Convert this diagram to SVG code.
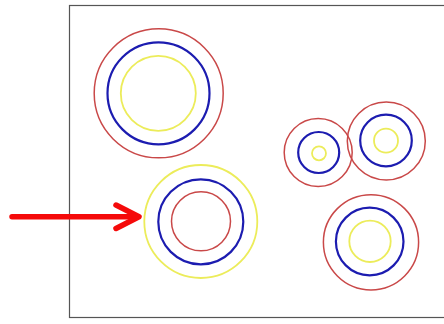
<svg xmlns="http://www.w3.org/2000/svg" width="444" height="324" viewBox="0 0 444 324">
<style>
.r{fill:none;stroke:#c94848;stroke-width:1.5}
.b{fill:none;stroke:#1c1cb0;stroke-width:2.2}
.y{fill:none;stroke:#ecec5a;stroke-width:1.8}
.frame{fill:#fff;stroke:#555;stroke-width:1.2}
.arrow{fill:none;stroke:#f50a0a;stroke-width:5.5;stroke-linecap:round;stroke-linejoin:round}
</style>
<rect width="444" height="324" fill="#fff"/>
<rect class="frame" x="69.5" y="5.5" width="376" height="312"/>
<g id="set1">
<circle class="r" cx="158.7" cy="93.3" r="64.5"/>
<circle class="b" cx="158.5" cy="93.3" r="51"/>
<circle class="y" cx="158.3" cy="93.3" r="37.5"/>
</g>
<g id="set2">
<circle class="y" cx="200.8" cy="221.5" r="56.5"/>
<circle class="b" cx="200.8" cy="221.8" r="42.5"/>
<circle class="r" cx="201" cy="221.3" r="29.5"/>
</g>
<g id="set3">
<circle class="r" cx="318.2" cy="152.5" r="34"/>
<circle class="b" cx="318.7" cy="152.5" r="20.5"/>
<circle class="y" cx="319" cy="153.3" r="7"/>
</g>
<g id="set4">
<circle class="r" cx="386.3" cy="141" r="39"/>
<circle class="b" cx="386" cy="140.5" r="25.8"/>
<circle class="y" cx="386" cy="140.7" r="12"/>
</g>
<g id="set5">
<circle class="r" cx="371" cy="242.3" r="47.6"/>
<circle class="b" cx="369.7" cy="241.5" r="33.8"/>
<circle class="y" cx="370" cy="241.3" r="20.7"/>
</g>
<g id="connectors">
<line class="arrow" x1="12" y1="216.7" x2="136" y2="216.7"/>
<polyline class="arrow" points="116,205 139,216.7 116,228.5"/>
</g>
</svg>
